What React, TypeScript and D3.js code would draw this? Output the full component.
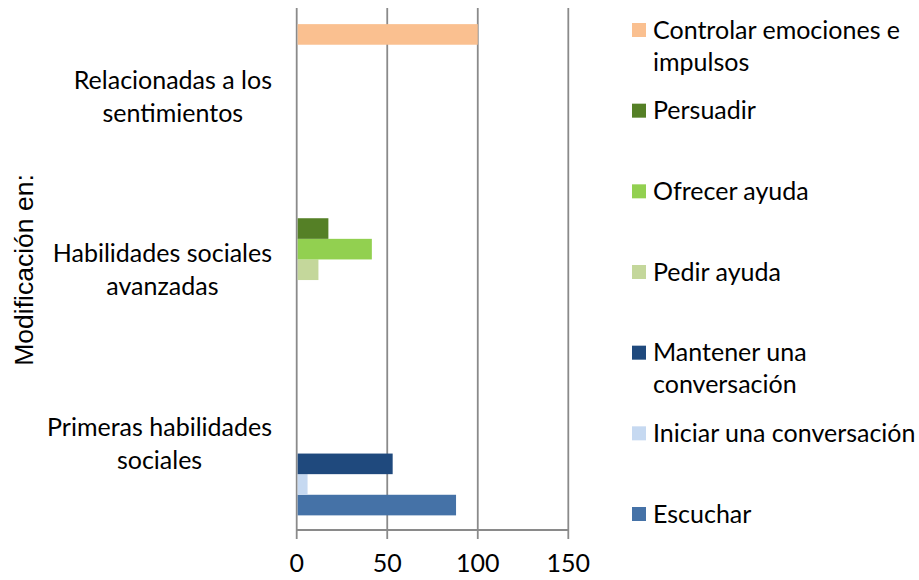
import React, { useEffect, useRef } from 'react';
import * as d3 from 'd3';

// categories, bottom to top
const categories = [
  'Primeras habilidades sociales',
  'Habilidades sociales avanzadas',
  'Relacionadas a los sentimientos',
];
const categoryLines = [
  ['Primeras habilidades', 'sociales'],
  ['Habilidades sociales', 'avanzadas'],
  ['Relacionadas a los', 'sentimientos'],
];

const seriesNames = [
  'Escuchar',
  'Iniciar una conversación',
  'Mantener una conversación',
  'Pedir ayuda',
  'Ofrecer ayuda',
  'Persuadir',
  'Controlar emociones e impulsos',
];
const legendLines = [
  ['Escuchar'],
  ['Iniciar una conversación'],
  ['Mantener una', 'conversación'],
  ['Pedir ayuda'],
  ['Ofrecer ayuda'],
  ['Persuadir'],
  ['Controlar emociones e', 'impulsos'],
];
const colors = ['#4572a7', '#c6d9f1', '#1f497d', '#c4d79b', '#92d050', '#558026', '#fac090'];

// values per series, one per category (null = no bar)
const escuchar = [88, null, null];
const iniciar = [6, null, null];
const mantener = [53, null, null];
const pedir = [null, 12, null];
const ofrecer = [null, 41.5, null];
const persuadir = [null, 17.5, null];
const controlar = [null, null, 100];
const seriesValues = [escuchar, iniciar, mantener, pedir, ofrecer, persuadir, controlar];

const xTicks = [0, 50, 100, 150];

const FONT = 'Lato, "Noto Sans", sans-serif';

const App = () => {
  const svgRef = useRef<SVGSVGElement>(null);

  useEffect(() => {
    document.body.style.margin = '0';
    const width = 919;
    const height = 580;
    const plot = { left: 296.7, right: 568.3, top: 9.5, bottom: 530 };

    const svg = d3.select(svgRef.current);
    svg.selectAll('*').remove();
    svg.attr('width', width).attr('height', height).attr('viewBox', [0, 0, width, height].join(' '));

    const x = d3.scaleLinear().domain([0, 150]).range([plot.left, plot.right]);
    const y0 = d3.scaleBand<string>().domain(categories).range([plot.bottom, plot.top]);
    const y1 = d3
      .scaleBand<number>()
      .domain(d3.range(seriesNames.length))
      .range([y0.bandwidth(), 0])
      .paddingInner(0)
      .paddingOuter(0.71);

    const grid = '#8a8a8a';

    // gridlines
    svg
      .append('g')
      .selectAll('line')
      .data(xTicks)
      .join('line')
      .attr('x1', (d) => x(d))
      .attr('x2', (d) => x(d))
      .attr('y1', 8)
      .attr('y2', plot.bottom + 9)
      .attr('stroke', grid)
      .attr('stroke-width', 1.8);

    // bottom axis line
    svg
      .append('line')
      .attr('x1', x(0))
      .attr('x2', x(150))
      .attr('y1', plot.bottom)
      .attr('y2', plot.bottom)
      .attr('stroke', grid)
      .attr('stroke-width', 1.8);

    // tick labels
    svg
      .append('g')
      .selectAll('text')
      .data(xTicks)
      .join('text')
      .attr('x', (d) => x(d))
      .attr('y', 572)
      .attr('text-anchor', 'middle')
      .style('font', `25px ${FONT}`)
      .attr('fill', '#000')
      .text((d) => d);

    // bars
    const bars = seriesValues.flatMap((vals, si) =>
      vals.map((v, ci) => ({ si, ci, v })).filter((d) => d.v != null)
    );
    svg
      .append('g')
      .selectAll('rect')
      .data(bars)
      .join('rect')
      .attr('x', x(0) + 1)
      .attr('y', (d) => (y0(categories[d.ci]) as number) + (y1(d.si) as number))
      .attr('width', (d) => x(d.v as number) - x(0) - 1)
      .attr('height', y1.bandwidth())
      .attr('fill', (d) => colors[d.si]);

    // category labels: block right-aligned, lines centered
    const lineH = 33;
    categories.forEach((c, ci) => {
      const lines = categoryLines[ci];
      const cy = (y0(c) as number) + y0.bandwidth() / 2;
      const g = svg.append('g');
      const texts = g
        .selectAll('text')
        .data(lines)
        .join('text')
        .attr('y', (_, i) => cy + (i - (lines.length - 1) / 2) * lineH)
        .attr('dy', '0.35em')
        .attr('text-anchor', 'middle')
        .style('font', `25px ${FONT}`)
        .attr('fill', '#000')
        .text((d) => d);
      const maxW = d3.max(texts.nodes(), (n) => (n as SVGTextElement).getComputedTextLength()) || 0;
      texts.attr('x', 272 - maxW / 2);
    });

    // axis title
    svg
      .append('text')
      .attr('transform', 'translate(33,270) rotate(-90)')
      .attr('text-anchor', 'middle')
      .style('font', '26.5px "Liberation Sans", Arial, sans-serif')
      .attr('fill', '#000')
      .text('Modificación en:');

    // legend, top entry = last series
    const ly = d3
      .scalePoint<number>()
      .domain(d3.range(seriesNames.length).reverse())
      .range([30, 514]);
    const legend = svg
      .append('g')
      .selectAll('g')
      .data(d3.range(seriesNames.length))
      .join('g')
      .attr('transform', (d) => `translate(632,${ly(d)})`);
    legend
      .append('rect')
      .attr('x', 0)
      .attr('y', -7)
      .attr('width', 14)
      .attr('height', 14)
      .attr('fill', (d) => colors[d]);
    legend
      .selectAll('text')
      .data((d) => legendLines[d])
      .join('text')
      .attr('x', 21)
      .attr('y', (_, i) => i * 32)
      .attr('dy', '0.35em')
      .style('font', `25px ${FONT}`)
      .attr('fill', '#000')
      .text((d) => d);
  }, []);

  return <svg ref={svgRef} style={{ display: 'block' }}></svg>;
};

export default App;
